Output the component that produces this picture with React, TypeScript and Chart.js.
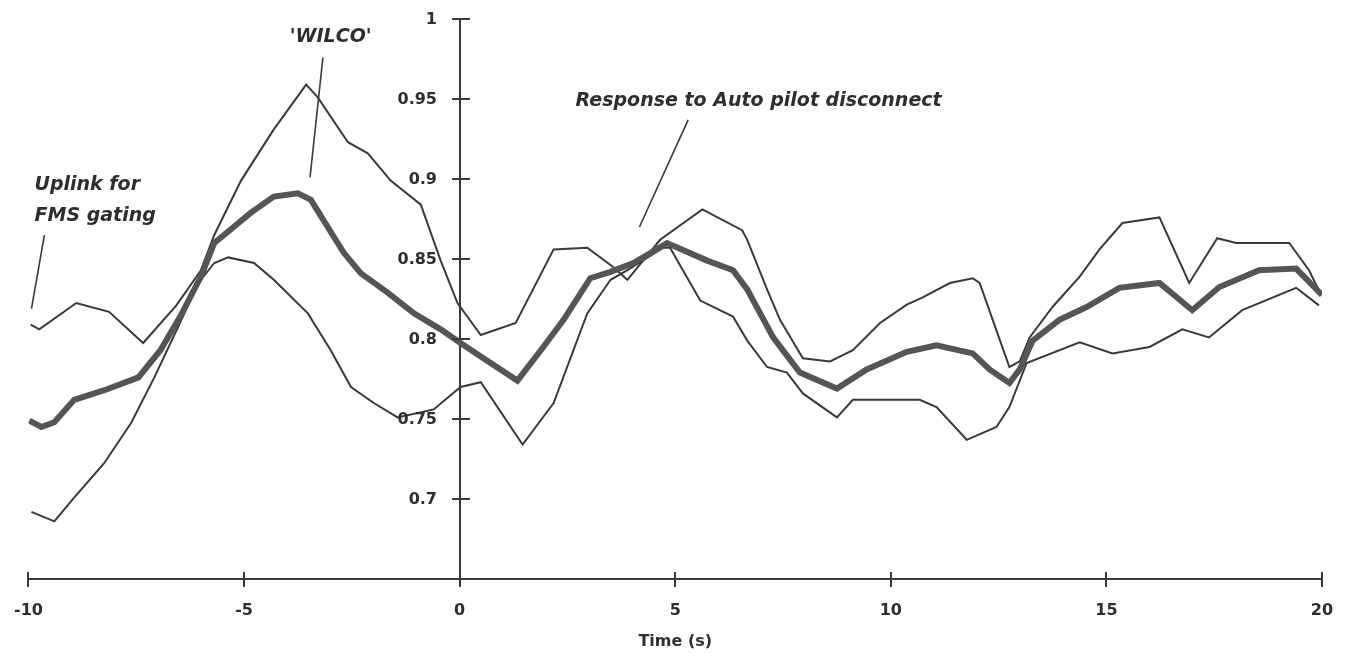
import React, { useEffect, useRef } from 'react';
import { Chart, registerables } from 'chart.js';

Chart.register(...registerables);

// ---- Data ----
const upperTime = [-9.95, -9.75, -8.89, -8.13, -7.34, -6.57, -6.0, -5.69, -5.07, -4.31, -3.56, -3.29, -2.59, -2.13, -1.6, -0.9, -0.44, -0.05, 0.49, 1.3, 2.18, 2.96, 3.56, 3.89, 4.65, 5.63, 6.55, 6.67, 7.13, 7.43, 7.96, 8.59, 9.12, 9.75, 10.37, 10.74, 11.37, 11.9, 12.06, 12.75, 12.99, 13.22, 13.75, 14.38, 14.84, 15.37, 16.23, 16.92, 17.57, 18.01, 19.24, 19.7, 19.98];
const upperValue = [0.809, 0.806, 0.8225, 0.817, 0.7975, 0.821, 0.843, 0.865, 0.899, 0.931, 0.959, 0.951, 0.923, 0.916, 0.899, 0.884, 0.849, 0.8225, 0.8025, 0.81, 0.856, 0.857, 0.845, 0.837, 0.862, 0.881, 0.868, 0.862, 0.831, 0.812, 0.788, 0.786, 0.793, 0.81, 0.8215, 0.826, 0.835, 0.838, 0.835, 0.7825, 0.786, 0.801, 0.82, 0.839, 0.856, 0.8725, 0.876, 0.835, 0.863, 0.86, 0.86, 0.843, 0.8275];

const meanTime = [-9.98, -9.7, -9.4, -8.94, -8.24, -7.45, -6.94, -6.48, -6.0, -5.69, -4.84, -4.31, -3.75, -3.45, -3.06, -2.69, -2.29, -1.67, -1.06, -0.44, 0.02, 0.49, 1.34, 1.94, 2.41, 3.03, 3.5, 4.03, 4.81, 5.74, 6.34, 6.67, 7.27, 7.89, 8.75, 9.44, 10.37, 11.06, 11.9, 12.29, 12.75, 12.99, 13.29, 13.91, 14.54, 15.3, 16.23, 16.99, 17.62, 18.54, 19.4, 20.0];
const meanValue = [0.749, 0.745, 0.748, 0.762, 0.768, 0.776, 0.793, 0.814, 0.839, 0.86, 0.879, 0.889, 0.891, 0.887, 0.87, 0.854, 0.841, 0.829, 0.816, 0.806, 0.7975, 0.789, 0.774, 0.795, 0.812, 0.838, 0.842, 0.8475, 0.86, 0.849, 0.843, 0.831, 0.801, 0.779, 0.769, 0.781, 0.792, 0.796, 0.791, 0.781, 0.7725, 0.781, 0.799, 0.812, 0.82, 0.832, 0.835, 0.818, 0.8325, 0.843, 0.844, 0.8275];

const lowerTime = [-9.93, -9.4, -9.0, -8.24, -7.62, -7.08, -6.53, -6.06, -5.69, -5.37, -4.77, -4.31, -3.52, -2.99, -2.52, -1.99, -1.44, -0.6, 0.02, 0.49, 1.46, 2.18, 2.96, 3.5, 3.89, 4.72, 4.88, 5.58, 6.34, 6.67, 7.13, 7.59, 7.96, 8.75, 9.12, 9.75, 10.67, 11.06, 11.76, 12.45, 12.75, 13.15, 14.38, 15.14, 16.0, 16.76, 17.38, 18.15, 19.4, 19.93];
const lowerValue = [0.692, 0.686, 0.699, 0.7225, 0.7475, 0.776, 0.8075, 0.835, 0.8475, 0.851, 0.8475, 0.837, 0.816, 0.793, 0.77, 0.76, 0.751, 0.756, 0.77, 0.773, 0.734, 0.76, 0.816, 0.837, 0.843, 0.857, 0.857, 0.824, 0.814, 0.799, 0.7825, 0.779, 0.766, 0.751, 0.762, 0.762, 0.762, 0.7575, 0.737, 0.745, 0.7575, 0.785, 0.798, 0.791, 0.795, 0.806, 0.801, 0.818, 0.832, 0.821];

const xTicks = [-10, -5, 0, 5, 10, 15, 20];
const yTicks = [0.7, 0.75, 0.8, 0.85, 0.9, 0.95, 1];
const yTickLabels = ['0.7', '0.75', '0.8', '0.85', '0.9', '0.95', '1'];
const xTitle = 'Time (s)';

const annotationTexts = ["'WILCO'", 'Uplink for', 'FMS gating', 'Response to Auto pilot disconnect'];
const annotationT = [-2.99, -9.86, -9.86, 2.69];
const annotationV = [0.989, 0.896, 0.877, 0.9485];

const leaderFromT = [-3.17, -9.63, 5.3];
const leaderFromV = [0.976, 0.865, 0.937];
const leaderToT = [-3.47, -9.93, 4.17];
const leaderToV = [0.901, 0.819, 0.87];

// ---- Styles ----
const INK = '#3a3a3a';
const TEXT = '#2e2e2e';
const FONT = '"DejaVu Sans", sans-serif';

const toPoints = (t: number[], v: number[]) => t.map((x, i) => ({ x, y: v[i] }));

const overlayPlugin = {
  id: 'overlay',
  afterDraw(chart: any) {
    const { ctx } = chart;
    const xs = chart.scales.x;
    const ys = chart.scales.y;
    ctx.save();
    ctx.strokeStyle = INK;
    ctx.lineWidth = 2;
    // y axis tick marks (crossing the axis) and labels
    const axisX = Math.round(xs.getPixelForValue(0));
    ctx.fillStyle = TEXT;
    ctx.font = `bold 16px ${FONT}`;
    ctx.textAlign = 'right';
    ctx.textBaseline = 'middle';
    yTicks.forEach((v, i) => {
      const py = Math.round(ys.getPixelForValue(v));
      ctx.beginPath();
      ctx.moveTo(axisX - 8, py);
      ctx.lineTo(axisX + 10, py);
      ctx.stroke();
      ctx.fillText(yTickLabels[i], axisX - 23, py + 1);
    });
    // x axis inner tick halves
    const axisY = ys.getPixelForValue(0.65);
    xTicks.forEach((t) => {
      const px = Math.round(xs.getPixelForValue(t));
      ctx.beginPath();
      ctx.moveTo(px, axisY);
      ctx.lineTo(px, axisY - 7);
      ctx.stroke();
    });
    // leader lines
    ctx.lineWidth = 1.6;
    leaderFromT.forEach((t, i) => {
      ctx.beginPath();
      ctx.moveTo(xs.getPixelForValue(t), ys.getPixelForValue(leaderFromV[i]));
      ctx.lineTo(xs.getPixelForValue(leaderToT[i]), ys.getPixelForValue(leaderToV[i]));
      ctx.stroke();
    });
    // annotation texts
    ctx.fillStyle = TEXT;
    ctx.font = `italic bold 19px ${FONT}`;
    ctx.textBaseline = 'middle';
    annotationTexts.forEach((txt, i) => {
      ctx.textAlign = i === 0 ? 'center' : 'left';
      ctx.fillText(txt, xs.getPixelForValue(annotationT[i]), ys.getPixelForValue(annotationV[i]));
    });
    ctx.restore();
  },
};

export default function App() {
  const ref = useRef<HTMLCanvasElement | null>(null);

  useEffect(() => {
    if (!ref.current) return;
    const chart = new Chart(ref.current, {
      type: 'line',
      data: {
        datasets: [
          {
            label: 'Mean',
            data: toPoints(meanTime, meanValue),
            borderColor: '#555555',
            borderWidth: 6,
            pointRadius: 0,
            tension: 0,
            order: 0,
          },
          {
            label: 'Upper',
            data: toPoints(upperTime, upperValue),
            borderColor: INK,
            borderWidth: 2,
            pointRadius: 0,
            tension: 0,
            order: 1,
          },
          {
            label: 'Lower',
            data: toPoints(lowerTime, lowerValue),
            borderColor: INK,
            borderWidth: 2,
            pointRadius: 0,
            tension: 0,
            order: 2,
          },
        ],
      },
      options: {
        responsive: false,
        animation: false,
        devicePixelRatio: 1,
        layout: { padding: { left: 27, right: 26, top: 19, bottom: 0 } },
        plugins: {
          legend: { display: false },
          tooltip: { enabled: false },
        },
        scales: {
          x: {
            type: 'linear',
            min: -10,
            max: 20,
            afterBuildTicks: (scale: any) => {
              scale.ticks = xTicks.map((value) => ({ value }));
            },
            afterFit: (scale: any) => {
              scale.height = 78;
            },
            grid: { drawOnChartArea: false, drawTicks: true, tickLength: 8, color: INK, lineWidth: 2 },
            border: { display: true, color: INK, width: 2 },
            ticks: {
              color: TEXT,
              padding: 14,
              maxRotation: 0,
              font: { family: FONT, weight: 'bold', size: 16 },
            },
            title: {
              display: true,
              text: xTitle,
              color: TEXT,
              padding: { top: 4, bottom: 6 },
              font: { family: FONT, weight: 'bold', size: 16 },
            },
          },
          y: {
            type: 'linear',
            min: 0.65,
            max: 1,
            position: { x: 0 },
            grid: { drawOnChartArea: false, drawTicks: false },
            border: { display: true, color: INK, width: 2 },
            ticks: { display: false },
          },
        },
      },
      plugins: [overlayPlugin],
    } as any);
    return () => chart.destroy();
  }, []);

  return (
    <div style={{ position: 'absolute', left: 0, top: 0, width: 1348, height: 657, background: '#ffffff' }}>
      <canvas ref={ref} width={1348} height={657} style={{ display: 'block' }} />
    </div>
  );
}
